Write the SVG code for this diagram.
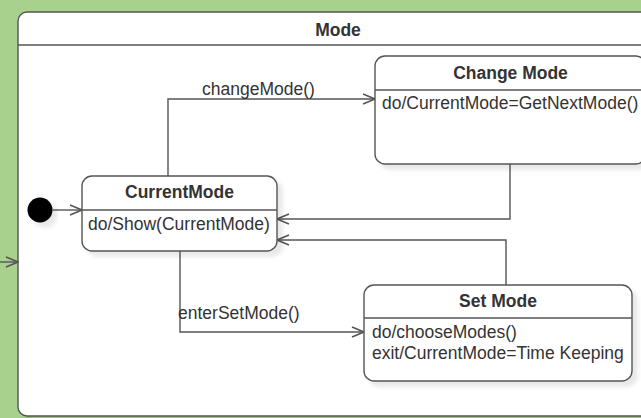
<svg xmlns="http://www.w3.org/2000/svg" width="641" height="418" viewBox="0 0 641 418">
<defs>
<style>
.box{fill:#fff;stroke:#555;stroke-width:1.4}
.ln{fill:none;stroke:#555;stroke-width:1.4}
.t{font-family:"Liberation Sans",Arial,sans-serif;font-size:17.5px;fill:#333}
.b{font-weight:bold;text-anchor:middle}
</style>
<filter id="sh" x="-10%" y="-10%" width="130%" height="140%">
<feDropShadow dx="5" dy="5" stdDeviation="2" flood-color="#000" flood-opacity="0.09"/>
</filter>
<marker id="arr" viewBox="0 0 14 12" refX="13" refY="6" markerWidth="14" markerHeight="12" markerUnits="userSpaceOnUse" orient="auto">
<path d="M1,1 L13,6 L1,11" fill="none" stroke="#555" stroke-width="1.5"/>
</marker>
</defs>
<rect x="0" y="0" width="641" height="418" fill="#a9d18e"/>
<g id="mode">
<rect x="18" y="12" width="642" height="404" rx="9" class="box" filter="url(#sh)"/>
<line x1="18" y1="45" x2="660" y2="45" class="ln"/>
<text x="338" y="36" class="t b">Mode</text>
</g>
<g id="connectors">
<line x1="0" y1="262" x2="18" y2="262" class="ln" marker-end="url(#arr)"/>
<line x1="53" y1="210" x2="82" y2="210" class="ln" marker-end="url(#arr)"/>
<polyline points="168,176 168,99 375,99" class="ln" marker-end="url(#arr)"/>
<text x="202" y="95" class="t">changeMode()</text>
<polyline points="510,164 510,219 277,219" class="ln" marker-end="url(#arr)"/>
<polyline points="506,285 506,240 277,240" class="ln" marker-end="url(#arr)"/>
<polyline points="180,251 180,332 364,332" class="ln" marker-end="url(#arr)"/>
<text x="178" y="319" class="t">enterSetMode()</text>
</g>
<g id="initial">
<circle cx="40" cy="210" r="12.5" fill="#000" filter="url(#sh)"/>
</g>
<g id="currentMode">
<rect x="82" y="176" width="195" height="75" rx="10" class="box" filter="url(#sh)"/>
<line x1="82" y1="210" x2="277" y2="210" class="ln"/>
<text x="179.5" y="198" class="t b">CurrentMode</text>
<text x="88" y="230" class="t">do/Show(CurrentMode)</text>
</g>
<g id="changeMode">
<rect x="375" y="56" width="271" height="108" rx="10" class="box" filter="url(#sh)"/>
<line x1="375" y1="90" x2="646" y2="90" class="ln"/>
<text x="510.5" y="79" class="t b">Change Mode</text>
<text x="382" y="109" class="t">do/CurrentMode=GetNextMode()</text>
</g>
<g id="setMode">
<rect x="364" y="285" width="268" height="96" rx="10" class="box" filter="url(#sh)"/>
<line x1="364" y1="318" x2="632" y2="318" class="ln"/>
<text x="498" y="307" class="t b">Set Mode</text>
<text x="372" y="338" class="t">do/chooseModes()</text>
<text x="372" y="359" class="t">exit/CurrentMode=Time Keeping</text>
</g>
</svg>
